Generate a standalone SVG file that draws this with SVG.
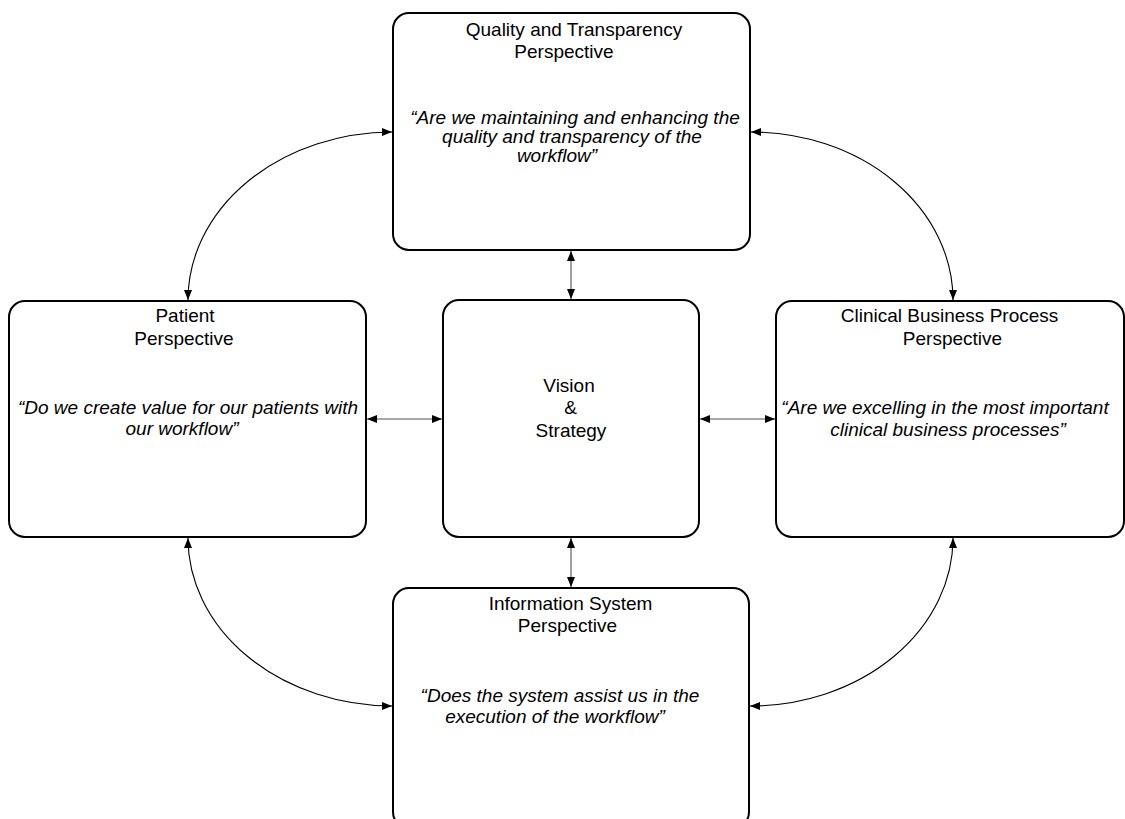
<svg xmlns="http://www.w3.org/2000/svg" width="1125" height="819" viewBox="0 0 1125 819">
<defs>
<style>
.box{fill:#fff;stroke:#000;stroke-width:2}
.t{font-family:"Liberation Sans",Arial,sans-serif;font-size:19px;fill:#000;text-anchor:middle}
.q{font-style:italic}
.arc{fill:none;stroke:#000;stroke-width:1.1}
.ln{fill:none;stroke:#888;stroke-width:1.6}
</style>
<marker id="ah" viewBox="0 0 10 8" refX="10" refY="4" markerWidth="10" markerHeight="8" markerUnits="userSpaceOnUse" orient="auto-start-reverse">
<path d="M0,0 L10,4 L0,8 Z" fill="#000"/>
</marker>
</defs>
<rect width="1125" height="819" fill="#fff"/>
<g id="connectors">
<path class="arc" d="M188,300 A205,168 0 0 1 392,132" marker-start="url(#ah)" marker-end="url(#ah)"/>
<path class="arc" d="M751,132 A202,168 0 0 1 953,300" marker-start="url(#ah)" marker-end="url(#ah)"/>
<path class="arc" d="M188,538 A205,168 0 0 0 392,706" marker-start="url(#ah)" marker-end="url(#ah)"/>
<path class="arc" d="M953,538 A203,168 0 0 1 750,706" marker-start="url(#ah)" marker-end="url(#ah)"/>
<path class="ln" d="M571,251 L571,299" marker-start="url(#ah)" marker-end="url(#ah)"/>
<path class="ln" d="M571,538 L571,587" marker-start="url(#ah)" marker-end="url(#ah)"/>
<path class="ln" d="M367,419 L442,419" marker-start="url(#ah)" marker-end="url(#ah)"/>
<path class="ln" d="M700,419 L775,419" marker-start="url(#ah)" marker-end="url(#ah)"/>
</g>
<g id="quality">
<rect class="box" x="393" y="13" width="357" height="237" rx="16"/>
<text class="t" x="574" y="36">Quality and Transparency</text>
<text class="t" x="564" y="58">Perspective</text>
<text class="t q" x="575" y="124">“Are we maintaining and enhancing the</text>
<text class="t q" x="572" y="143">quality and transparency of the</text>
<text class="t q" x="557" y="162">workflow”</text>
</g>
<g id="patient">
<rect class="box" x="9" y="301" width="357" height="236" rx="16"/>
<text class="t" x="185" y="322">Patient</text>
<text class="t" x="184" y="345">Perspective</text>
<text class="t q" x="188" y="414">“Do we create value for our patients with</text>
<text class="t q" x="182" y="435">our workflow”</text>
</g>
<g id="vision">
<rect class="box" x="443" y="300" width="256" height="237" rx="16"/>
<text class="t" x="569" y="392">Vision</text>
<text class="t" x="570.5" y="414">&amp;</text>
<text class="t" x="571" y="437">Strategy</text>
</g>
<g id="clinical">
<rect class="box" x="776" y="301" width="348" height="236" rx="16"/>
<text class="t" x="949.5" y="322">Clinical Business Process</text>
<text class="t" x="952.5" y="345">Perspective</text>
<text class="t q" x="945" y="414">“Are we excelling in the most important</text>
<text class="t q" x="948" y="436">clinical business processes”</text>
</g>
<g id="information">
<rect class="box" x="393" y="588" width="356" height="240" rx="16"/>
<text class="t" x="570.5" y="610">Information System</text>
<text class="t" x="567.5" y="632">Perspective</text>
<text class="t q" x="560" y="702">“Does the system assist us in the</text>
<text class="t q" x="555" y="723">execution of the workflow”</text>
</g>
</svg>
